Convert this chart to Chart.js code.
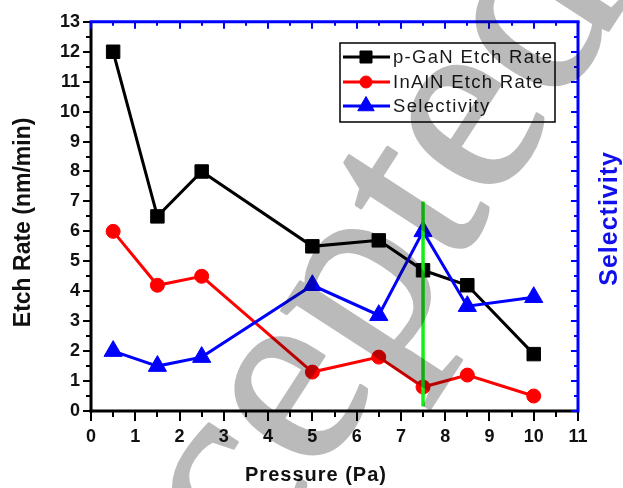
<!DOCTYPE html>
<html>
<head>
<meta charset="utf-8">
<script src="https://cdn.jsdelivr.net/npm/chart.js@4/dist/chart.umd.min.js"></script>
<style>
  html, body { margin: 0; padding: 0; background: #fff; }
  #wrap { width: 623px; height: 488px; }
</style>
</head>
<body>
<div id="wrap"><canvas id="c" width="623" height="488"></canvas></div>
<script>
// Etch rates of p-GaN and InAlN versus chamber pressure, with selectivity
const pressure = [0.5, 1.5, 2.5, 5, 6.5, 7.5, 8.5, 10];
const pganRate = [12, 6.5, 8, 5.5, 5.7, 4.7, 4.2, 1.9];
const inalnRate = [6, 4.2, 4.5, 1.3, 1.8, 0.8, 1.2, 0.5];
const selectivity = [2.0, 1.5, 1.8, 4.2, 3.2, 6.0, 3.5, 3.8];

// vertical marker at the chosen operating pressure
const markerPressure = 7.5;
const markerSpan = [0.15, 7.0];

const xTickLabels = ['0','1','2','3','4','5','6','7','8','9','10','11'];
const yTickLabels = ['0','1','2','3','4','5','6','7','8','9','10','11','12','13'];

const seriesNames = ['p-GaN Etch Rate', 'InAlN Etch Rate', 'Selectivity'];

const toPoints = (xs, ys) => xs.map((x, i) => ({ x, y: ys[i] }));

const SANS = '"Liberation Sans", Arial, sans-serif';

// axis frame, minor/major ticks, axis titles and legend box
const framePlugin = {
  id: 'frame',
  beforeDatasetsDraw(chart) {
    const { ctx, chartArea: a, scales } = chart;
    const sx = scales.x, sy = scales.y;
    const seg = (x1, y1, x2, y2) => { ctx.beginPath(); ctx.moveTo(x1, y1); ctx.lineTo(x2, y2); ctx.stroke(); };
    ctx.save();
    ctx.lineCap = 'butt';
    ctx.lineWidth = 2;

    // bottom & left: black ticks pointing outward
    ctx.strokeStyle = '#000';
    for (let v = 0; v <= 11.001; v += 0.5) {
      const px = Math.round(sx.getPixelForValue(v));
      seg(px, a.bottom, px, a.bottom + (Number.isInteger(v) ? 10 : 6));
    }
    for (let v = 0; v <= 13.001; v += 0.5) {
      const py = Math.round(sy.getPixelForValue(v));
      seg(a.left - (Number.isInteger(v) ? 8 : 5), py, a.left, py);
    }
    ctx.lineWidth = 3;
    seg(a.left, a.top, a.left, a.bottom + 1.5);
    seg(a.left - 1.5, a.bottom, a.right, a.bottom);

    // top & right: blue ticks pointing inward
    ctx.strokeStyle = '#0000ff';
    ctx.lineWidth = 2;
    for (let v = 0; v <= 11.001; v += 0.5) {
      const px = Math.round(sx.getPixelForValue(v));
      seg(px, a.top, px, a.top + (Number.isInteger(v) ? 7 : 4));
    }
    for (let v = 0; v <= 13.001; v += 0.5) {
      const py = Math.round(sy.getPixelForValue(v));
      seg(a.right - (Number.isInteger(v) ? 7 : 4), py, a.right, py);
    }
    ctx.lineWidth = 3;
    seg(a.left - 1.5, a.top, a.right + 1.5, a.top);
    seg(a.right, a.top, a.right, a.bottom + 1.5);

    // axis titles
    ctx.fillStyle = '#111';
    ctx.textAlign = 'center';
    ctx.textBaseline = 'alphabetic';
    ctx.save();
    ctx.font = 'bold 23px ' + SANS;
    ctx.translate(30, (a.top + a.bottom) / 2 + 6);
    ctx.rotate(-Math.PI / 2);
    ctx.fillText('Etch Rate (nm/min)', 0, 0);
    ctx.restore();

    ctx.save();
    ctx.letterSpacing = '1px';
    ctx.font = 'bold 20px ' + SANS;
    ctx.fillText('Pressure (Pa)', 316, 481);
    ctx.restore();

    ctx.save();
    ctx.fillStyle = '#1010ee';
    ctx.letterSpacing = '1px';
    ctx.font = 'bold 25px ' + SANS;
    ctx.translate(617, (a.top + a.bottom) / 2 + 2);
    ctx.rotate(-Math.PI / 2);
    ctx.fillText('Selectivity', 0, 0);
    ctx.restore();

    // legend
    const box = { l: 340, t: 43, r: 555, b: 122 };
    ctx.fillStyle = '#fff';
    ctx.fillRect(box.l, box.t, box.r - box.l, box.b - box.t);
    ctx.strokeStyle = '#000';
    ctx.lineWidth = 1.5;
    ctx.strokeRect(box.l, box.t, box.r - box.l, box.b - box.t);
    const rows = [57, 82, 106];
    chart.data.datasets.slice(0, 3).forEach((ds, i) => {
      const y = rows[i];
      ctx.strokeStyle = ds.borderColor;
      ctx.lineWidth = 3;
      seg(343, y, 390, y);
      ctx.fillStyle = ds.pointBackgroundColor;
      ctx.strokeStyle = ds.borderColor;
      ctx.lineWidth = 1;
      Chart.helpers.drawPoint(ctx, { pointStyle: ds.pointStyle, radius: ds.pointRadius - 1, borderWidth: 1, rotation: 0 }, 366, y);
      ctx.fillStyle = '#1a1a1a';
      ctx.textAlign = 'left';
      ctx.textBaseline = 'middle';
      ctx.font = '18.5px ' + SANS;
      ctx.letterSpacing = '1.3px';
      ctx.fillText(ds.label, 393, y + 1);
      ctx.letterSpacing = '0px';
    });
    ctx.restore();
  },
  // grey "Accepted" stamp printed over the finished figure
  afterDraw(chart) {
    const ctx = chart.ctx;
    const off = document.createElement('canvas');
    off.width = chart.width;
    off.height = chart.height;
    const o = off.getContext('2d');
    o.fillStyle = '#fff';
    o.fillRect(0, 0, off.width, off.height);
    o.fillStyle = '#bababa';
    o.strokeStyle = '#bababa';
    o.lineWidth = 3;
    o.lineJoin = 'round';
    o.font = '265px "Liberation Serif", "DejaVu Serif", serif';
    o.textAlign = 'left';
    o.textBaseline = 'alphabetic';
    o.translate(84, 838);
    o.rotate(-57 * Math.PI / 180);
    o.fillText('Accepted', 0, 0);
    o.strokeText('Accepted', 0, 0);
    ctx.save();
    ctx.globalCompositeOperation = 'multiply';
    ctx.drawImage(off, 0, 0);
    ctx.restore();
  }
};

const tickFont = { family: SANS, size: 18, weight: 'bold' };

new Chart(document.getElementById('c'), {
  type: 'line',
  data: {
    datasets: [
      {
        label: seriesNames[0], data: toPoints(pressure, pganRate), yAxisID: 'y',
        borderColor: '#000000', backgroundColor: '#000000', pointBackgroundColor: '#000000',
        borderWidth: 3, pointStyle: 'rect', pointRadius: 9.5, pointBorderWidth: 1, order: 3
      },
      {
        label: seriesNames[1], data: toPoints(pressure, inalnRate), yAxisID: 'y',
        borderColor: '#ff0000', backgroundColor: '#ff0000', pointBackgroundColor: '#ff0000',
        borderWidth: 3, pointStyle: 'circle', pointRadius: 7, pointBorderWidth: 1, order: 2
      },
      {
        label: seriesNames[2], data: toPoints(pressure, selectivity), yAxisID: 'y2',
        borderColor: '#0000ff', backgroundColor: '#0000ff', pointBackgroundColor: '#0000ff',
        borderWidth: 3, pointStyle: 'triangle', pointRadius: 10.5, pointBorderWidth: 1, order: 1
      },
      {
        label: 'marker', data: markerSpan.map(y => ({ x: markerPressure, y })), yAxisID: 'y',
        borderColor: '#14f014', borderWidth: 3.5, pointRadius: 0, order: 0
      }
    ]
  },
  options: {
    responsive: false,
    animation: false,
    devicePixelRatio: 1,
    layout: { padding: 0 },
    plugins: { legend: { display: false }, tooltip: { enabled: false } },
    elements: { line: { tension: 0 } },
    scales: {
      x: {
        type: 'linear', position: 'bottom', min: 0, max: 11,
        afterFit: s => { s.height = 77; },
        grid: { display: false, drawTicks: false },
        border: { display: false },
        ticks: { stepSize: 1, padding: 15, color: '#111', font: tickFont,
                 callback: (v) => xTickLabels[v] ?? '' }
      },
      x2: {
        type: 'linear', position: 'top', min: 0, max: 11,
        afterFit: s => { s.height = 20; },
        grid: { display: false, drawTicks: false },
        border: { display: false },
        ticks: { display: false }
      },
      y: {
        type: 'linear', position: 'left', min: 0, max: 13,
        afterFit: s => { s.width = 91; },
        grid: { display: false, drawTicks: false },
        border: { display: false },
        ticks: { stepSize: 1, padding: 11, color: '#111', font: tickFont,
                 callback: (v) => yTickLabels[v] ?? '' }
      },
      y2: {
        type: 'linear', position: 'right', min: 0, max: 13,
        afterFit: s => { s.width = 45; },
        grid: { display: false, drawTicks: false },
        border: { display: false },
        ticks: { display: false }
      }
    }
  },
  plugins: [framePlugin]
});
</script>
</body>
</html>
